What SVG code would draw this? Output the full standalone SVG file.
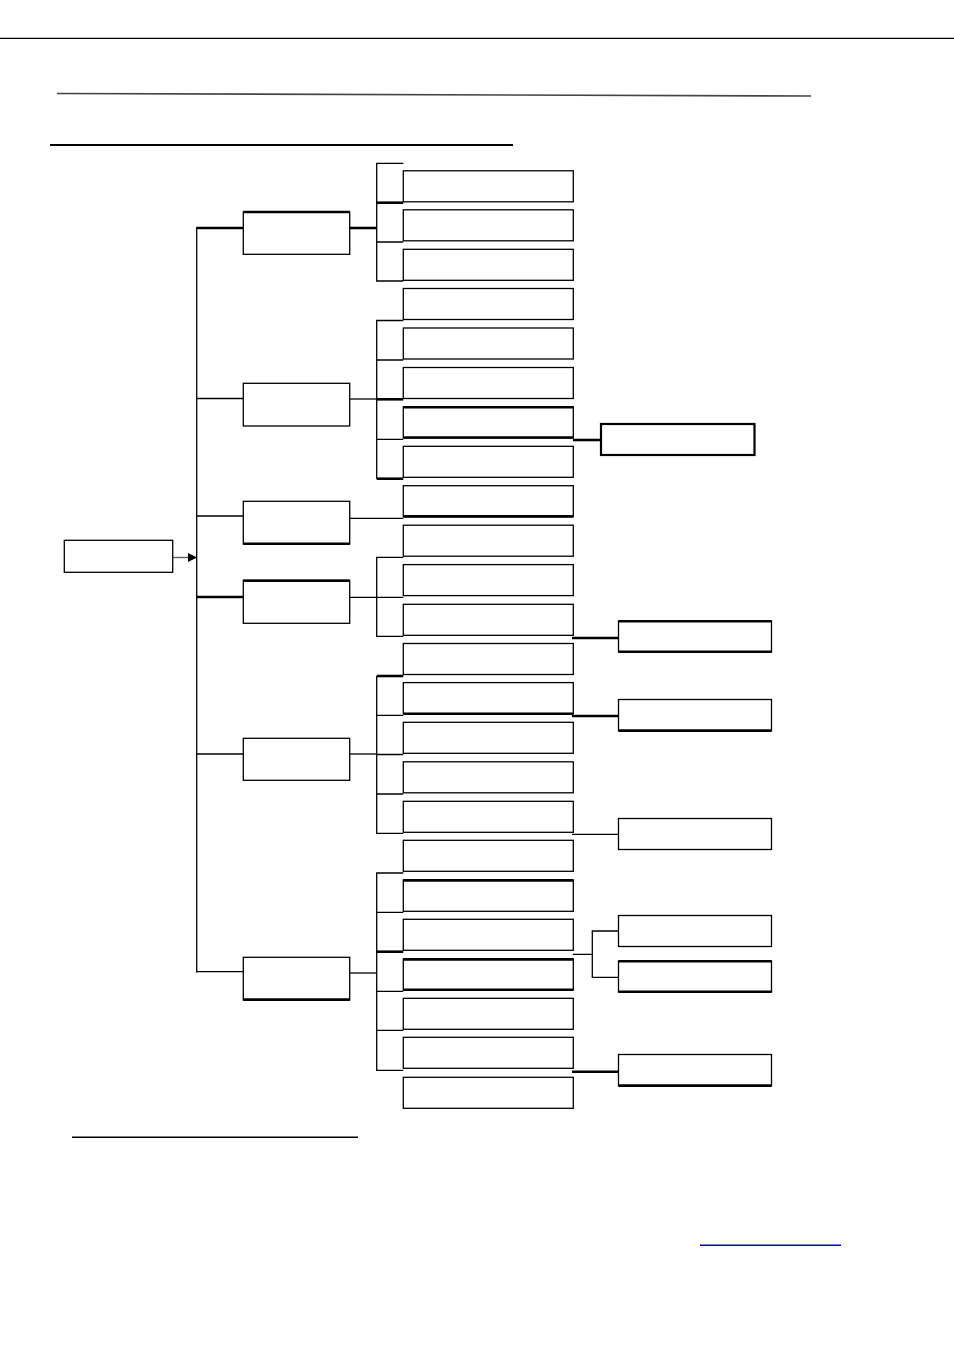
<svg xmlns="http://www.w3.org/2000/svg" width="954" height="1350" viewBox="0 0 954 1350">
<style>
.b{fill:#fff;stroke:#000;stroke-width:1.3}
.t{stroke:#000;stroke-width:2.6;fill:none}
.c{stroke:#000;stroke-width:1.3;fill:none}
.k{stroke:#000;stroke-width:2.6;fill:none}
</style>
<defs>
<marker id="ah" markerWidth="10" markerHeight="10" refX="9" refY="5" orient="auto" markerUnits="userSpaceOnUse">
<path d="M0,0.5 L9,5 L0,9.5 Z" fill="#000"/>
</marker>
</defs>
<rect width="954" height="1350" fill="#fff"/>
<g id="rules">
<line x1="0" y1="38.3" x2="954" y2="38.3" stroke="#000" stroke-width="1.2"/>
<line x1="57" y1="93.5" x2="811" y2="96" stroke="#444" stroke-width="1.6"/>
<line x1="50" y1="145" x2="513" y2="145" stroke="#000" stroke-width="2.2"/>
<line x1="72" y1="1137.3" x2="358" y2="1137.3" stroke="#000" stroke-width="1.6"/>
<line x1="700" y1="1245.3" x2="841" y2="1245.3" stroke="#0000cc" stroke-width="1.4"/>
</g>
<g id="connectors">
<line x1="172.7" y1="557.5" x2="197" y2="557.5" stroke="#666" stroke-width="1.5" marker-end="url(#ah)"/>
<line class="c" x1="196.7" y1="227" x2="196.7" y2="972.5"/>
<line class="k" x1="196.7" y1="228" x2="243.3" y2="228"/>
<line class="c" x1="196.7" y1="398.5" x2="243.3" y2="398.5"/>
<line class="c" x1="196.7" y1="516" x2="243.3" y2="516"/>
<line class="k" x1="196.7" y1="597" x2="243.3" y2="597"/>
<line class="c" x1="196.7" y1="754" x2="243.3" y2="754"/>
<line class="c" x1="196.7" y1="971.7" x2="243.3" y2="971.7"/>
<line class="k" x1="349.7" y1="228" x2="376.7" y2="228"/>
<line class="c" x1="349.7" y1="399" x2="376.7" y2="399"/>
<line class="c" x1="349.7" y1="518.3" x2="403.3" y2="518.3"/>
<line class="c" x1="349.7" y1="597.3" x2="403.3" y2="597.3"/>
<line class="c" x1="349.7" y1="754" x2="376.7" y2="754"/>
<line class="c" x1="349.7" y1="973" x2="376.7" y2="973"/>
<path class="c" d="M403.3,163.3 H376.7 V281 H403.3 M376.7,242 H403.3"/>
<line class="k" x1="376.7" y1="202.7" x2="403.3" y2="202.7"/>
<path class="c" d="M403.3,320.5 H376.7 V478.7 M376.7,360 H403.3 M376.7,439.3 H403.3"/>
<line class="k" x1="376.7" y1="399.3" x2="403.3" y2="399.3"/>
<line class="k" x1="376.7" y1="478.7" x2="403.3" y2="478.7"/>
<path class="c" d="M403.3,557.3 H376.7 V636.3 H403.3"/>
<path class="c" d="M376.7,676 V833.3 H403.3 M376.7,715.3 H403.3 M376.7,754.5 H403.3 M376.7,794 H403.3"/>
<line class="k" x1="376.7" y1="676" x2="403.3" y2="676"/>
<path class="c" d="M403.3,873 H376.7 V1070.3 H403.3 M376.7,912.3 H403.3 M376.7,991.3 H403.3 M376.7,1030.3 H403.3"/>
<line class="k" x1="376.7" y1="951.7" x2="403.3" y2="951.7"/>
<line class="k" x1="573" y1="440" x2="601" y2="440"/>
<line class="k" x1="572" y1="638" x2="618.5" y2="638"/>
<line class="k" x1="572" y1="716" x2="618.5" y2="716"/>
<line class="c" x1="572" y1="834.3" x2="618.5" y2="834.3"/>
<path class="c" d="M572.7,954.3 H592.3 M618.5,931 H592.3 V977.3 H618.5"/>
<line class="k" x1="572" y1="1071.7" x2="618.5" y2="1071.7"/>
</g>
<g id="root"><rect class="b" x="64.3" y="540.3" width="108.4" height="32"/></g>
<g id="l1-1"><rect class="b" x="243.3" y="211.7" width="106.4" height="42.6"/><line class="t" x1="243.3" y1="212" x2="349.7" y2="212"/></g>
<g id="l1-2"><rect class="b" x="243.3" y="383.3" width="106.4" height="42.7"/></g>
<g id="l1-3"><rect class="b" x="243.3" y="501.3" width="106.4" height="42.7"/><line class="t" x1="243.3" y1="543.7" x2="349.7" y2="543.7"/></g>
<g id="l1-4"><rect class="b" x="243.3" y="580.3" width="106.4" height="43"/><line class="t" x1="243.3" y1="580.7" x2="349.7" y2="580.7"/></g>
<g id="l1-5"><rect class="b" x="243.3" y="738.3" width="106.4" height="42"/></g>
<g id="l1-6"><rect class="b" x="243.3" y="957.3" width="106.4" height="42.7"/><line class="t" x1="243.3" y1="999.6" x2="349.7" y2="999.6"/></g>
<g id="l2-1"><rect class="b" x="403.3" y="170.8" width="170" height="31"/></g>
<g id="l2-2"><rect class="b" x="403.3" y="209.8" width="170" height="31"/></g>
<g id="l2-3"><rect class="b" x="403.3" y="249.3" width="170" height="31"/></g>
<g id="l2-4"><rect class="b" x="403.3" y="288.5" width="170" height="31"/></g>
<g id="l2-5"><rect class="b" x="403.3" y="328" width="170" height="31"/></g>
<g id="l2-6"><rect class="b" x="403.3" y="367.5" width="170" height="31"/></g>
<g id="l2-7"><rect class="b" x="403.3" y="406.9" width="170" height="31"/><line class="t" x1="403.3" y1="407.3" x2="573.3" y2="407.3"/><line class="t" x1="403.3" y1="437.5" x2="573.3" y2="437.5"/></g>
<g id="l2-8"><rect class="b" x="403.3" y="446.3" width="170" height="31"/></g>
<g id="l2-9"><rect class="b" x="403.3" y="485.7" width="170" height="31"/><line class="t" x1="403.3" y1="516.4" x2="573.3" y2="516.4"/></g>
<g id="l2-10"><rect class="b" x="403.3" y="525.2" width="170" height="31"/></g>
<g id="l2-11"><rect class="b" x="403.3" y="564.6" width="170" height="31"/></g>
<g id="l2-12"><rect class="b" x="403.3" y="604.3" width="170" height="31"/></g>
<g id="l2-13"><rect class="b" x="403.3" y="643.5" width="170" height="31"/></g>
<g id="l2-14"><rect class="b" x="403.3" y="682.6" width="170" height="31"/><line class="t" x1="403.3" y1="713.8" x2="573.3" y2="713.8"/></g>
<g id="l2-15"><rect class="b" x="403.3" y="722.3" width="170" height="31"/></g>
<g id="l2-16"><rect class="b" x="403.3" y="761.8" width="170" height="31"/></g>
<g id="l2-17"><rect class="b" x="403.3" y="801.3" width="170" height="31"/></g>
<g id="l2-18"><rect class="b" x="403.3" y="840.3" width="170" height="31"/></g>
<g id="l2-19"><rect class="b" x="403.3" y="880" width="170" height="31.3"/><line class="t" x1="403.3" y1="880.4" x2="573.3" y2="880.4"/></g>
<g id="l2-20"><rect class="b" x="403.3" y="919.3" width="170" height="31"/></g>
<g id="l2-21"><rect class="b" x="403.3" y="959" width="170" height="31"/><line class="t" x1="403.3" y1="959.4" x2="573.3" y2="959.4"/><line class="t" x1="403.3" y1="989.7" x2="573.3" y2="989.7"/></g>
<g id="l2-22"><rect class="b" x="403.3" y="998.3" width="170" height="31"/></g>
<g id="l2-23"><rect class="b" x="403.3" y="1037.3" width="170" height="31"/></g>
<g id="l2-24"><rect class="b" x="403.3" y="1077.3" width="170" height="31"/></g>
<g id="s1"><rect x="601" y="424" width="153.5" height="31" fill="#fff" stroke="#000" stroke-width="2.2"/></g>
<g id="s2"><rect class="b" x="618.5" y="621" width="153" height="31"/><line class="t" x1="618.5" y1="621.3" x2="771.5" y2="621.3"/><line class="t" x1="618.5" y1="651.7" x2="771.5" y2="651.7"/></g>
<g id="s3"><rect class="b" x="618.5" y="699.5" width="153" height="31.3"/><line class="t" x1="618.5" y1="730.6" x2="771.5" y2="730.6"/></g>
<g id="s4"><rect class="b" x="618.5" y="818.5" width="153" height="31"/></g>
<g id="s5"><rect class="b" x="618.5" y="915.5" width="153" height="31"/></g>
<g id="s6"><rect class="b" x="618.5" y="961" width="153" height="31"/><line class="t" x1="618.5" y1="961.3" x2="771.5" y2="961.3"/><line class="t" x1="618.5" y1="991.8" x2="771.5" y2="991.8"/></g>
<g id="s7"><rect class="b" x="618.5" y="1054.5" width="153" height="31.3"/><line class="t" x1="618.5" y1="1085.6" x2="771.5" y2="1085.6"/></g>
</svg>
